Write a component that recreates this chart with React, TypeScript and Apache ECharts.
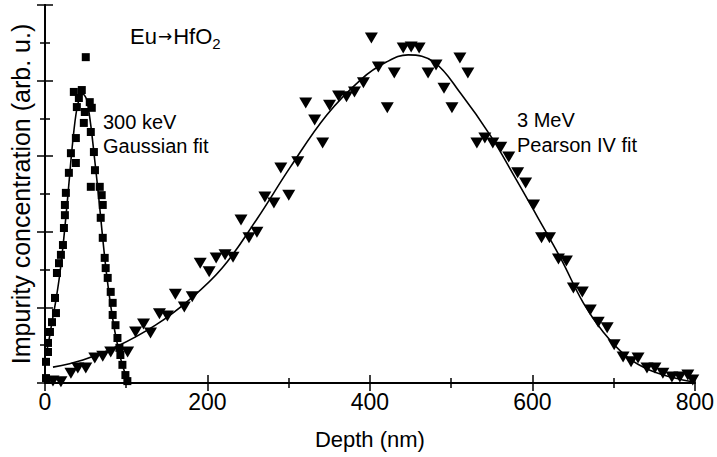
import React, { useEffect, useRef } from "react";
import * as echarts from "echarts";

// 300 keV implantation (squares)
const squareDepth = [1.2, 1.2, 3.7, 3.7, 6.1, 8.6, 13.5, 12.3, 14.7, 17.2, 19.6, 22.1, 23.3, 24.5, 24.5, 25.7, 29.4, 31.9, 38.0, 38.0, 39.2, 35.5, 41.7, 45.3, 50.2, 49.0, 47.8, 55.1, 57.6, 56.4, 60.2, 61.5, 56.4, 67.4, 69.8, 71.1, 68.6, 71.1, 73.5, 74.7, 77.2, 80.9, 83.3, 83.3, 86.8, 89.2, 91.6, 92.8, 95.3, 99.0, 101.4];
const squareConc = [0.13, 0.56, 0.82, 1.06, 1.35, 1.61, 1.85, 2.25, 2.91, 3.17, 3.39, 3.65, 4.10, 4.44, 4.71, 5.03, 5.56, 6.08, 5.82, 6.48, 7.30, 7.70, 7.54, 7.75, 8.62, 7.17, 6.88, 7.43, 7.28, 6.64, 6.11, 5.63, 5.19, 5.19, 4.97, 4.71, 4.37, 3.84, 3.31, 3.04, 2.78, 2.41, 2.12, 1.80, 1.53, 1.19, 0.93, 0.74, 0.48, 0.21, 0.05];

// Gaussian fit
const gaussDepth = [1.2, 4.9, 8.6, 13.5, 18.4, 23.3, 28.2, 33.1, 38.0, 42.9, 46.5, 51.4, 56.3, 61.2, 66.1, 71.0, 75.9, 80.8, 85.7, 90.7, 95.6, 101.7];
const gaussConc = [0.74, 1.14, 1.61, 2.2, 2.91, 3.86, 4.97, 6.16, 7.09, 7.57, 7.65, 7.49, 6.83, 5.9, 4.92, 3.84, 2.86, 2.06, 1.4, 0.87, 0.45, 0.08];

// 3 MeV implantation (triangles)
const triDepth = [9.8, 19.6, 31.9, 40.4, 50.2, 61.3, 71.1, 80.9, 101.7, 111.5, 121.3, 129.9, 140.9, 150.7, 160.5, 171.5, 181.3, 191.1, 202.1, 210.7, 221.7, 231.5, 241.3, 251.1, 260.9, 270.7, 281.8, 290.3, 300.1, 311.2, 321.0, 332.0, 341.8, 350.3, 361.4, 371.2, 381.0, 392.0, 401.8, 410.4, 421.4, 430.0, 441.0, 450.8, 460.6, 471.6, 481.4, 491.2, 501.0, 510.8, 520.6, 531.7, 541.5, 551.3, 561.1, 570.9, 581.9, 591.7, 601.5, 611.3, 621.1, 632.1, 641.9, 650.5, 661.5, 671.3, 681.1, 692.1, 700.7, 711.7, 721.5, 730.1, 741.1, 750.9, 760.7, 771.8, 781.6, 791.4, 797.5];
const triConc = [0.05, 0.03, 0.26, 0.40, 0.40, 0.66, 0.71, 0.82, 0.82, 1.35, 1.56, 1.32, 1.83, 1.77, 2.35, 2.01, 2.28, 3.17, 2.94, 3.31, 3.39, 3.33, 4.31, 3.84, 3.99, 4.92, 4.76, 5.69, 4.97, 5.85, 7.41, 6.96, 6.35, 7.35, 7.59, 7.57, 7.70, 7.94, 9.13, 8.36, 7.28, 8.20, 8.86, 8.89, 8.86, 8.20, 8.41, 7.80, 7.28, 8.60, 8.20, 6.35, 6.48, 6.35, 6.24, 5.98, 5.56, 5.29, 4.71, 3.84, 3.84, 3.28, 3.23, 2.51, 2.41, 1.93, 1.61, 1.46, 1.01, 0.69, 0.56, 0.66, 0.40, 0.40, 0.26, 0.16, 0.16, 0.21, 0.08];

// Pearson IV fit
const pearsonDepth = [9.8, 46.6, 87.0, 136.0, 177.6, 218.1, 261.0, 302.0, 346.9, 389.6, 420.2, 447.1, 479.0, 512.1, 548.8, 577.0, 606.4, 634.6, 662.7, 687.2, 716.6, 744.8, 785.2, 800];
const pearsonConc = [0.42, 0.61, 0.95, 1.53, 2.2, 3.04, 4.34, 5.71, 7.09, 8.04, 8.49, 8.68, 8.49, 7.65, 6.53, 5.5, 4.39, 3.31, 2.12, 1.35, 0.69, 0.34, 0.08, 0.03];

const xLabel = "Depth (nm)";
const yLabel = "Impurity concentration (arb. u.)";
const FONT = "Liberation Sans, Arial, Helvetica, sans-serif";

const zip = (a: number[], b: number[]) => a.map((v, i) => [v, b[i]]);

export default function App() {
  const ref = useRef<HTMLDivElement>(null);
  useEffect(() => {
    if (!ref.current) return;
    const chart = echarts.init(ref.current, undefined, { renderer: "svg" });
    const canvas = document.createElement("canvas");
    const ctx = canvas.getContext("2d")!;
    ctx.font = "22px 'Liberation Sans'";
    const wEu = ctx.measureText("Eu").width;
    const wHfO = ctx.measureText("HfO").width;
    ctx.font = "17px 'DejaVu Sans'";
    const wArr = ctx.measureText("→").width;
    const x0 = 130;
    const xArr = x0 + wEu + 1;
    const xH = xArr + wArr + 1;
    const xSub = xH + wHfO;

    const axisLine = { lineStyle: { color: "#000", width: 1.8 } };
    const tick = { show: true, inside: true, length: 8, lineStyle: { color: "#000", width: 1.5 } };
    const minor = { show: true, splitNumber: 2, length: 5, lineStyle: { color: "#000", width: 1.5 } };
    const xBase = { type: "value", min: 0, max: 800, interval: 200, axisLine, axisTick: tick, minorTick: minor, splitLine: { show: false } };
    const yBase = { type: "value", min: 0, max: 10, interval: 2, axisLine, axisTick: tick, minorTick: minor, splitLine: { show: false }, axisLabel: { show: false } };
    const txt = (text: string, x: number, y: number, fontSize: number, fontFamily = FONT) => ({
      type: "text",
      x,
      y,
      style: { text, fill: "#000", fontSize, fontFamily, verticalAlign: "middle" },
    });

    chart.setOption({
      animation: false,
      backgroundColor: "#fff",
      grid: { left: 42, right: 22, top: 5, bottom: 74 },
      xAxis: [
        {
          ...xBase,
          position: "bottom",
          axisLabel: { color: "#000", fontSize: 23, fontFamily: FONT, margin: 7 },
          name: xLabel,
          nameLocation: "middle",
          nameGap: 45,
          nameTextStyle: { color: "#000", fontSize: 22, fontFamily: FONT },
        },
        { ...xBase, position: "top", axisLabel: { show: false } },
      ],
      yAxis: [
        {
          ...yBase,
          position: "left",
          name: yLabel,
          nameLocation: "middle",
          nameGap: 12,
          nameTextStyle: { color: "#000", fontSize: 25, fontFamily: FONT },
        },
        { ...yBase, position: "right" },
      ],
      series: [
        {
          type: "scatter",
          data: zip(squareDepth, squareConc),
          symbol: "rect",
          symbolSize: 8,
          itemStyle: { color: "#000", opacity: 1 },
        },
        {
          type: "line",
          data: zip(gaussDepth, gaussConc),
          smooth: 0.3,
          showSymbol: false,
          symbol: "none",
          lineStyle: { color: "#000", width: 1.6 },
        },
        {
          type: "scatter",
          data: zip(triDepth, triConc),
          symbol: "triangle",
          symbolRotate: 180,
          symbolSize: [13, 11],
          itemStyle: { color: "#000", opacity: 1 },
        },
        {
          type: "line",
          data: zip(pearsonDepth, pearsonConc),
          smooth: 0.4,
          showSymbol: false,
          symbol: "none",
          lineStyle: { color: "#000", width: 1.6 },
        },
      ],
      graphic: [
        txt("Eu", x0, 36, 22),
        txt("→", xArr, 36, 17, "DejaVu Sans"),
        txt("HfO", xH, 36, 22),
        txt("2", xSub, 43, 15),
        txt("300 keV", 103, 122, 20),
        txt("Gaussian fit", 103, 146, 20),
        txt("3 MeV", 517, 120, 20),
        txt("Pearson IV fit", 517, 145, 20),
      ],
    });
    return () => chart.dispose();
  }, []);
  return <div ref={ref} style={{ position: "fixed", left: 0, top: 0, width: 717, height: 457 }} />;
}
